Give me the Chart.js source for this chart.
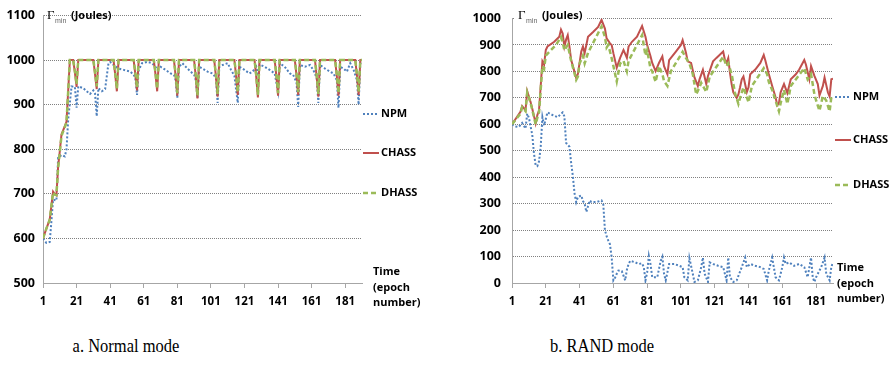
<!DOCTYPE html>
<html>
<head>
<meta charset="utf-8">
<script src="https://cdn.jsdelivr.net/npm/chart.js@4.4.1/dist/chart.umd.min.js"></script>
<style>
    body { margin: 0; background: #fff; width: 890px; height: 367px; position: relative; overflow: hidden; }
    .box { position: absolute; top: 0; height: 310px; }
    .cap { position: absolute; top: 336px; width: 200px; text-align: center; font: 16.5px 'Liberation Serif', serif; color: #000;
        transform: scaleY(1.12); }
</style>
</head>
<body>
<div class="box" style="left:0;width:440px"><canvas id="normalChart"></canvas></div>
<div class="box" style="left:440px;width:450px"><canvas id="randChart"></canvas></div>
<div class="cap" style="left:26px">a. Normal mode</div>
<div class="cap" style="left:502px">b. RAND mode</div>
<script>
// x tick labels (epoch number)
const xTicks = [1, 21, 41, 61, 81, 101, 121, 141, 161, 181];
const normalYTicks = [500, 600, 700, 800, 900, 1000, 1100];
const randYTicks = [0, 100, 200, 300, 400, 500, 600, 700, 800, 900, 1000];

// a. Normal mode - CHASS and DHASS share the same epochs
const normalEpochs = [1,3,5,7,8,9,10,11,12,14,15,17, 19,20,21,22, 31,32,33,34, 43,44,45,46, 55,56,57,58, 67,68,69,70,
    79,80,81,82, 91,92,93,94, 103,104,105,106, 115,116,117,118, 127,128,129,130, 139,140,141,142,
    151,152,153,154, 163,164,165,166, 175,176,177,178, 187,188,189,190, 191];
const normalChass = [600,622,642,705,700,697,760,795,833,852,862,1000, 1000,972,940,1000, 1000,968,935,1000, 1000,968,930,1000,
    1000,968,932,1000, 1000,968,930,1000, 1000,964,920,1000, 1000,962,914,1000, 1000,963,918,1000, 1000,965,922,1000,
    1000,962,916,1000, 1000,964,920,1000, 1000,965,922,1000, 1000,963,918,1000, 1000,964,920,1000, 1000,965,922,1000, 1000];
const normalDhass = [600,622,642,703,698,697,758,793,830,850,860,1000, 1000,975,946,1000, 1000,972,941,1000, 1000,971,936,1000,
    1000,972,938,1000, 1000,971,936,1000, 1000,968,926,1000, 1000,966,920,1000, 1000,967,924,1000, 1000,969,928,1000,
    1000,966,922,1000, 1000,968,926,1000, 1000,969,928,1000, 1000,967,924,1000, 1000,968,926,1000, 1000,969,928,1000, 1000];
const normalNpmEpochs = [1,3,5,6,7,9,10,12,14,15,16,18,20,21,22,25,27,29,31,32,33,34,36,38,40,41,43,46,49,53,55,56,57,58,60,
    63,66,68,69,71,74,77,79,80,81,82,84,86,89,91,92,93,94,96,99,102,104,105,106,108,111,113,115,117,118,121,124,126,128,129,
    130,133,136,139,141,142,145,148,150,152,153,154,157,160,162,164,165,166,169,172,174,176,177,178,180,182,184,186,188,189,190,191];
const normalNpm = [600,590,592,638,687,685,781,787,784,800,867,941,940,893,941,937,930,924,932,925,874,937,930,935,993,996,989,
    981,978,974,967,960,922,978,993,996,993,985,978,985,978,970,967,955,915,985,993,985,974,967,955,915,985,981,974,970,960,904,
    985,989,993,978,965,904,985,978,970,975,985,965,990,985,978,970,930,993,985,970,967,950,895,989,985,989,978,960,904,989,981,
    974,970,955,893,985,981,974,993,978,955,900,993,990];

// b. RAND mode
const randChassEpochs = [1,6,7,9,10,12,13,15,16,17,19,20,21,22,26,29,30,31,32,33,34,35,36,39,40,42,43,44,46,49,52,54,56,57,59,
    60,61,63,65,67,69,70,72,75,78,80,81,83,84,86,88,90,91,93,94,98,101,102,104,105,107,109,111,112,114,116,117,119,120,122,124,
    126,127,128,129,130,131,132,134,135,136,137,138,140,141,142,145,148,150,151,153,155,157,158,159,160,162,164,166,169,171,174,
    175,177,178,180,182,183,185,186,188,189,190,191];
const randChass = [600,647,669,653,725,684,659,604,635,653,838,826,881,894,912,931,958,943,894,920,937,894,844,776,790,875,894,
    869,931,949,968,995,962,925,906,900,869,814,851,881,851,894,912,931,972,931,900,857,832,801,832,857,820,789,843,875,900,918,
    870,838,832,777,745,770,806,752,783,820,838,851,863,875,844,832,850,795,752,721,700,713,740,770,781,722,740,789,807,832,862,
    840,790,745,702,672,680,721,752,718,770,789,807,843,825,770,820,783,752,709,745,777,720,705,770,772];
const randDhassEpochs = [1,6,7,9,10,12,13,15,16,17,19,20,21,24,27,30,31,32,34,36,39,40,41,43,44,46,54,56,57,58,60,63,65,67,69,
    70,78,80,81,83,84,86,88,90,91,93,95,102,104,106,108,110,112,113,116,118,126,128,129,131,133,135,136,138,141,143,150,152,153,
    155,157,159,160,162,164,166,174,176,178,180,181,183,185,187,189,190,191];
const randDhass = [600,640,665,650,720,680,655,600,625,645,820,810,860,880,900,930,910,880,900,840,768,780,830,860,830,870,970,
    930,890,900,850,762,830,840,800,840,937,860,880,810,800,760,820,790,763,745,800,874,850,831,790,713,740,757,722,780,855,820,
    830,790,718,677,700,740,683,745,812,790,760,730,690,649,680,730,677,745,812,770,790,713,690,651,707,690,649,702,695];
const randNpmEpochs = [1,3,5,7,9,10,11,13,14,15,16,17,18,19,20,22,25,28,31,32,33,35,36,37,38,39,40,42,43,44,45,47,48,51,54,55,
    56,57,58,59,60,61,62,63,64,66,68,69,70,71,74,76,78,79,80,81,82,83,84,87,89,90,91,92,94,97,100,102,103,105,106,108,109,111,
    113,114,115,117,118,120,123,126,128,129,130,132,134,137,139,140,142,145,148,150,152,153,155,157,159,161,162,163,165,168,171,
    174,176,178,179,180,181,184,186,187,189,190,191];
const randNpm = [600,592,590,605,584,640,625,560,490,445,442,460,516,627,596,645,635,627,645,630,530,515,455,405,340,306,325,331,
    310,300,269,312,306,306,312,300,200,177,160,146,96,10,20,35,47,45,10,50,72,84,78,72,74,60,10,40,102,70,22,22,84,99,35,10,72,
    72,65,60,22,10,94,35,4,10,60,96,35,4,78,72,65,60,10,96,22,4,10,60,96,60,72,65,60,53,10,47,96,22,10,60,96,72,78,65,72,60,22,
    96,22,4,22,60,96,35,10,60,78];

const seriesNames = ['NPM', 'CHASS', 'DHASS'];

const pts = (xs, ys) => xs.map((x, i) => ({ x: x, y: ys[i] }));

const boldFont = '"Open Sans"';

// text placed around each plot (canvas coordinates)
const notes = {
    normalChart: { title: [47, 16], legendX: 363, legendY: [114, 153, 193], time: [373, 272] },
    randChart: { title: [78, 16], legendX: 395, legendY: [97, 140, 185], time: [397, 268], clear: [75, 6, 72, 18] }
};

const notesPlugin = {
    id: 'notes',
    afterDraw: (chart) => {
        const n = notes[chart.canvas.id];
        const ctx = chart.ctx;
        ctx.save();
        if (n.clear) {
            ctx.fillStyle = '#fff';
            ctx.fillRect(n.clear[0], n.clear[1], n.clear[2], n.clear[3]);
        }
        ctx.textBaseline = 'middle';
        ctx.textAlign = 'left';
        ctx.fillStyle = '#000';
        ctx.font = '13px "Liberation Serif"';
        ctx.fillText('Γ', n.title[0], n.title[1]);
        ctx.fillStyle = '#666';
        ctx.font = '7px "Liberation Sans"';
        ctx.fillText('min', n.title[0] + 8, n.title[1] + 5);
        ctx.fillStyle = '#000';
        ctx.font = 'bold 11px ' + boldFont;
        ctx.fillText('(Joules)', n.title[0] + 24, n.title[1]);

        ctx.font = 'bold 11px ' + boldFont;
        chart.data.datasets.forEach((ds, i) => {
            const y = n.legendY[i];
            ctx.strokeStyle = ds.borderColor;
            ctx.lineWidth = ds.borderWidth;
            ctx.setLineDash(ds.borderDash || []);
            ctx.beginPath();
            ctx.moveTo(n.legendX, y);
            ctx.lineTo(n.legendX + 16, y);
            ctx.stroke();
            ctx.fillText(ds.label, n.legendX + 18, y);
        });
        ['Time', '(epoch', 'number)'].forEach((t, i) => ctx.fillText(t, n.time[0], n.time[1] + i * 15.5));
        ctx.restore();
    }
};

function makeChart(id, sets, yTicks, pad, yPad) {
    const styles = [
        { borderColor: '#4F81BD', borderWidth: 2, borderDash: [2, 2], order: 2 },
        { borderColor: '#C0504D', borderWidth: 2, borderDash: [], order: 1 },
        { borderColor: '#9BBB59', borderWidth: 2.5, borderDash: [5, 3], order: 0 }
    ];
    new Chart(document.getElementById(id), {
        type: 'line',
        data: {
            datasets: sets.map((d, i) => Object.assign({
                label: seriesNames[i],
                data: d,
                pointRadius: 0,
                tension: 0,
                fill: false
            }, styles[i]))
        },
        options: {
            responsive: true,
            maintainAspectRatio: false,
            animation: false,
            layout: { padding: pad },
            plugins: { legend: { display: false }, tooltip: { enabled: false } },
            scales: {
                x: {
                    type: 'linear',
                    min: 1,
                    max: 191,
                    afterBuildTicks: s => { s.ticks = xTicks.map(v => ({ value: v })); },
                    afterFit: s => { s.height = 27; },
                    grid: { drawOnChartArea: false, drawTicks: true, tickLength: 5, color: '#a6a6a6' },
                    border: { display: true, color: '#a6a6a6' },
                    ticks: { color: '#000', padding: 7, maxRotation: 0, autoSkip: false,
                        callback: v => String(v),
                        font: { family: boldFont, weight: 'bold', size: 11.5 } }
                },
                y: {
                    min: yTicks[0],
                    max: yTicks[yTicks.length - 1],
                    afterBuildTicks: s => { s.ticks = yTicks.map(v => ({ value: v })); },
                    afterFit: s => { s.width = 43; },
                    grid: { drawTicks: false, color: '#808080', lineWidth: 1 },
                    border: { display: true, color: '#a6a6a6', dash: [1, 1] },
                    ticks: { color: '#000', padding: yPad,
                        callback: v => String(v),
                        font: { family: boldFont, weight: 'bold', size: 12.5 } }
                }
            }
        },
        plugins: [notesPlugin]
    });
}

makeChart('normalChart', [
    pts(normalNpmEpochs, normalNpm),
    pts(normalEpochs, normalChass),
    pts(normalEpochs, normalDhass)
], normalYTicks, { left: 0, top: 12, right: 78, bottom: 0 }, 8);

makeChart('randChart', [
    pts(randNpmEpochs, randNpm),
    pts(randChassEpochs, randChass),
    pts(randDhassEpochs, randDhass)
], randYTicks, { left: 29, top: 13, right: 57, bottom: 0 }, 11);
</script>
</body>
</html>
